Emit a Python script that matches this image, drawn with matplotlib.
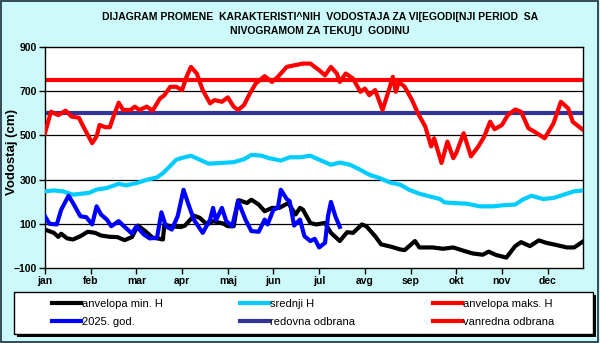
import matplotlib
matplotlib.use('agg')
import matplotlib.pyplot as plt
from matplotlib.lines import Line2D
from matplotlib.patches import Rectangle

plt.rcParams['font.family'] = ['Liberation Sans', 'DejaVu Sans']

# day of year -> water level (cm)
max_days = [0, 4, 9, 14, 18, 23, 26, 32, 35, 37, 41, 44, 46, 50, 53, 58, 61, 64, 69, 73,
            78, 81, 85, 89, 93, 96, 99, 103, 107, 112, 115, 120, 124, 128, 131, 135, 139,
            143, 149, 154, 158, 164, 169, 175, 180, 186, 190, 194, 198, 200, 204, 209, 214,
            217, 220, 224, 229, 234, 236, 238, 240, 244, 249, 253, 258, 262, 264, 269, 273,
            277, 279, 284, 289, 294, 298, 302, 305, 310, 314, 319, 323, 328, 332, 339, 345,
            350, 355, 358, 365]
max_h = [510, 607, 592, 612, 585, 580, 540, 465, 495, 547, 537, 537, 577, 648, 615, 615, 630,
         615, 630, 612, 667, 682, 720, 720, 705, 765, 810, 780, 705, 645, 660, 652, 672, 630,
         615, 637, 690, 735, 768, 742, 765, 810, 817, 825, 825, 795, 772, 810, 780, 742, 780,
         757, 697, 712, 682, 705, 615, 720, 765, 697, 742, 720, 660, 600, 540, 450, 487, 375,
         472, 397, 420, 510, 405, 450, 495, 562, 528, 547, 592, 617, 607, 532, 517, 487, 555,
         652, 622, 562, 525]

mean_days = [0, 6, 12, 19, 26, 30, 35, 42, 50, 55, 62, 69, 76, 80, 85, 89, 94, 99, 105, 111,
             119, 128, 135, 140, 147, 152, 160, 166, 173, 180, 186, 194, 200, 207, 214, 220,
             227, 234, 241, 247, 254, 261, 268, 271, 277, 286, 295, 304, 311, 319, 324, 330,
             338, 345, 352, 359, 365]
mean_h = [247, 251, 247, 232, 237, 240, 255, 262, 281, 274, 284, 299, 310, 329, 362, 390, 400,
          408, 390, 372, 375, 379, 392, 412, 408, 397, 386, 401, 401, 408, 390, 367, 377, 367,
          344, 322, 307, 287, 277, 254, 236, 224, 212, 197, 194, 191, 179, 179, 184, 187, 209,
          227, 212, 217, 232, 247, 251]

min_days = [0, 6, 9, 11, 15, 19, 24, 29, 34, 38, 44, 49, 54, 59, 63, 68, 73, 78, 80, 81, 85,
            92, 95, 101, 105, 110, 114, 121, 124, 128, 131, 132, 137, 140, 145, 149, 154, 159,
            165, 170, 173, 175, 180, 184, 190, 194, 200, 205, 209, 215, 218, 224, 228, 235,
            241, 244, 251, 254, 263, 270, 277, 284, 290, 297, 301, 306, 313, 319, 323, 329,
            335, 340, 347, 354, 359, 365]
min_h = [74, 59, 41, 55, 34, 29, 44, 64, 59, 47, 41, 40, 26, 40, 92, 67, 37, 32, 29, 97, 89,
         85, 92, 137, 127, 97, 112, 101, 89, 89, 206, 206, 194, 209, 187, 157, 172, 172, 194,
         142, 172, 164, 104, 97, 104, 59, 22, 62, 59, 97, 89, 44, 7, -4, -16, -19, 22, -7, -7,
         -13, -7, -22, -34, -40, -26, -41, -53, -1, 17, -1, 25, 14, 4, -7, -7, 20]

cur_days = [0, 3, 8, 11, 16, 19, 24, 28, 32, 35, 38, 42, 45, 50, 54, 59, 62, 67, 71, 76, 79,
            82, 86, 90, 94, 97, 101, 107, 112, 114, 116, 120, 123, 127, 131, 136, 140, 145,
            149, 151, 155, 158, 160, 164, 166, 169, 173, 176, 180, 183, 186, 190, 192, 194,
            197, 200]
cur_h = [134, 100, 97, 164, 227, 194, 134, 130, 97, 179, 142, 119, 89, 112, 86, 56, 89, 52,
         34, 37, 152, 89, 74, 134, 254, 194, 119, 59, 119, 172, 116, 172, 112, 89, 202, 119,
         67, 64, 119, 97, 164, 172, 254, 212, 202, 92, 119, 44, 22, 32, -7, 14, 134, 199, 134,
         86]

regular_level = 600
emergency_level = 750

month_labels = ['jan', 'feb', 'mar', 'apr', 'maj', 'jun', 'jul', 'avg', 'sep', 'okt',
                'nov', 'dec']
month_ticks = [31 * i for i in range(12)]
y_ticks = [-100, 100, 300, 500, 700, 900]

legend_labels = ['anvelopa min. H', '2025. god.', 'srednji H', 'redovna odbrana',
                 'anvelopa maks. H', 'vanredna odbrana']
legend_colors = ['black', '#0000FF', '#00CCFF', '#333399', '#FF0000', '#FF0000']

bg = '#CCFAFA'
fig = plt.figure(figsize=(6, 3.43), dpi=100, facecolor=bg)
# outer frame of the chart
fig.patches.append(Rectangle((0.001, 0.002), 0.996, 0.995, transform=fig.transFigure,
                             fill=False, edgecolor='#1c2c3c', lw=1.2))

ax = fig.add_axes([45 / 600, 1 - 268 / 343, 538 / 600, 221 / 343])
ax.set_facecolor('white')
ax.set_xlim(0, 365)
ax.set_ylim(-100, 900)

for y in y_ticks[1:-1]:
    ax.axhline(y, color='black', lw=0.9, zorder=1)

lw = 3.0
ax.plot(min_days, min_h, color='black', lw=lw, solid_joinstyle='round', zorder=3)
ax.plot(mean_days, mean_h, color='#00CCFF', lw=lw, solid_joinstyle='round', zorder=3)
ax.plot(max_days, max_h, color='#FF0000', lw=lw, solid_joinstyle='round', zorder=3)
ax.plot(cur_days, cur_h, color='#0000FF', lw=lw, solid_joinstyle='round', zorder=4)
ax.axhline(regular_level, color='#333399', lw=lw, zorder=2)
ax.axhline(emergency_level, color='#FF0000', lw=lw, zorder=2)

ax.set_xticks(month_ticks)
ax.set_xticklabels(month_labels)
ax.set_yticks(y_ticks)
ax.tick_params(direction='out', length=4, width=1, color='black', pad=2)
for lab in ax.get_xticklabels() + ax.get_yticklabels():
    lab.set_fontsize(7.5)
    lab.set_fontweight('bold')
for sp in ax.spines.values():
    sp.set_color('black')
    sp.set_linewidth(1)

fig.text(12 / 600, 1 - 152 / 343, 'Vodostaj (cm)', rotation=90, ha='center', va='center',
         fontsize=9.5, fontweight='bold')
fig.text(320 / 600, 1 - 17 / 343,
         'DIJAGRAM PROMENE  KARAKTERISTI^NIH  VODOSTAJA ZA VI[EGODI[NJI PERIOD  SA',
         ha='center', va='center', fontsize=7.5, fontweight='bold')
fig.text(320 / 600, 1 - 31 / 343, 'NIVOGRAMOM ZA TEKU]U  GODINU',
         ha='center', va='center', fontsize=7.5, fontweight='bold')

# legend box, drawn by hand so it keeps the reference's size, plus a hard shadow
bx, by, bw, bh = 14 / 600, 1 - 334 / 343, 579 / 600, 42 / 343
fig.patches.append(Rectangle((bx + 3 / 600, by - 3 / 343), bw, bh, transform=fig.transFigure,
                             facecolor='black', edgecolor='none', zorder=1))
fig.patches.append(Rectangle((bx, by), bw, bh, transform=fig.transFigure,
                             facecolor='white', edgecolor='black', lw=1, zorder=2))

handles = [Line2D([], [], color=c, lw=lw) for c in legend_colors]
leg = fig.legend(handles, legend_labels, ncol=3, loc='center',
                 bbox_to_anchor=(303 / 600, 1 - 313 / 343),
                 frameon=False, fontsize=8, handlelength=2.6, handletextpad=0.1,
                 columnspacing=7.0, labelspacing=0.75)
leg.set_zorder(3)

fig.savefig('out.png', dpi=100, facecolor=bg)
